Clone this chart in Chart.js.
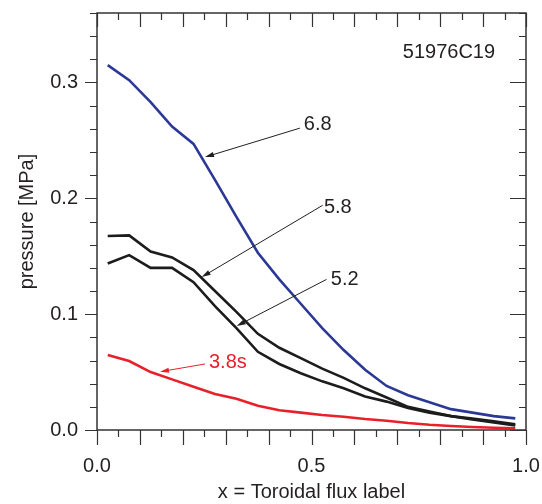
<!DOCTYPE html>
<html>
<head>
<meta charset="utf-8">
<script src="https://cdn.jsdelivr.net/npm/chart.js@4/dist/chart.umd.min.js"></script>
<style>
  body { margin: 0; background: #fff; }
  canvas { display: block; }
</style>
</head>
<body>
<canvas id="pressure-chart" width="542" height="504"></canvas>
<script>
// Toroidal flux label positions of the profile points
const fluxLabel = [0.025, 0.075, 0.125, 0.175, 0.225, 0.275, 0.325, 0.375, 0.425, 0.475,
  0.525, 0.575, 0.625, 0.675, 0.725, 0.775, 0.825, 0.875, 0.925, 0.975];

// Pressure profiles [MPa] at each time slice
const pressure68 = [0.315, 0.302, 0.283, 0.262, 0.247, 0.216, 0.184, 0.153, 0.130, 0.109,
  0.088, 0.069, 0.052, 0.038, 0.030, 0.024, 0.018, 0.015, 0.012, 0.010];
const pressure58 = [0.1675, 0.168, 0.154, 0.149, 0.138, 0.120, 0.102, 0.083, 0.071, 0.062,
  0.053, 0.045, 0.036, 0.028, 0.020, 0.016, 0.012, 0.010, 0.0075, 0.005];
const pressure52 = [0.1437, 0.151, 0.140, 0.140, 0.1276, 0.107, 0.088, 0.0675, 0.057, 0.049,
  0.042, 0.036, 0.029, 0.0245, 0.019, 0.015, 0.012, 0.009, 0.0065, 0.004];
const pressure38 = [0.0647, 0.0595, 0.050, 0.0437, 0.0373, 0.031, 0.027, 0.021, 0.017, 0.015,
  0.013, 0.0115, 0.0095, 0.008, 0.006, 0.0045, 0.0035, 0.0026, 0.002, 0.0015];

const xTickLabels = [0, 0.5, 1.0];
const yTickLabels = [0, 0.1, 0.2, 0.3];

const FONT = '"Liberation Sans", Arial, Helvetica, sans-serif';
const TEXT_COLOR = '#231f20';
const AXIS_COLOR = '#333333';

// Annotations in data coordinates: label text, where it sits, and arrow tail/head
const annotations = [
  { text: '6.8', x: 0.482, y: 0.264, color: TEXT_COLOR, from: [0.473, 0.2606], to: [0.2517, 0.2356] },
  { text: '5.8', x: 0.529, y: 0.192, color: TEXT_COLOR, from: [0.526, 0.194], to: [0.244, 0.132] },
  { text: '5.2', x: 0.545, y: 0.130, color: TEXT_COLOR, from: [0.535, 0.130], to: [0.3256, 0.0898] },
  { text: '3.8s', x: 0.261, y: 0.0583, color: '#e8202a', from: [0.2517, 0.057], to: [0.1469, 0.0503] }
];
const shotLabel = { text: '51976C19', x: 0.928, y: 0.326 };

function toPoints(values) {
  return fluxLabel.map((x, i) => ({ x: x, y: values[i] }));
}

function drawArrow(ctx, x1, y1, x2, y2, color) {
  const angle = Math.atan2(y2 - y1, x2 - x1);
  const headLen = 9;
  const headHalf = 2.6;
  ctx.save();
  ctx.strokeStyle = color;
  ctx.fillStyle = color;
  ctx.lineWidth = 1;
  ctx.beginPath();
  ctx.moveTo(x1, y1);
  ctx.lineTo(x2 - Math.cos(angle) * headLen * 0.8, y2 - Math.sin(angle) * headLen * 0.8);
  ctx.stroke();
  ctx.translate(x2, y2);
  ctx.rotate(angle);
  ctx.beginPath();
  ctx.moveTo(0, 0);
  ctx.lineTo(-headLen, -headHalf);
  ctx.lineTo(-headLen, headHalf);
  ctx.closePath();
  ctx.fill();
  ctx.restore();
}

// Labels and arrows drawn over the curves
const annotationPlugin = {
  id: 'annotations',
  afterDatasetsDraw(chart) {
    const { ctx, scales: { x, y } } = chart;
    ctx.save();
    ctx.font = '20px ' + FONT;
    ctx.textBaseline = 'middle';
    annotations.forEach(a => {
      drawArrow(ctx, x.getPixelForValue(a.from[0]), y.getPixelForValue(a.from[1]),
        x.getPixelForValue(a.to[0]), y.getPixelForValue(a.to[1]), a.color);
      ctx.fillStyle = a.color;
      ctx.textAlign = 'left';
      ctx.fillText(a.text, x.getPixelForValue(a.x), y.getPixelForValue(a.y));
    });
    ctx.fillStyle = TEXT_COLOR;
    ctx.textAlign = 'right';
    ctx.fillText(shotLabel.text, x.getPixelForValue(shotLabel.x), y.getPixelForValue(shotLabel.y));
    ctx.restore();
  }
};

// Box frame with minor/major ticks on all four sides
const framePlugin = {
  id: 'frameTicks',
  afterDraw(chart) {
    const { ctx, scales: { x, y } } = chart;
    const left = x.getPixelForValue(0);
    const right = x.getPixelForValue(1);
    const top = y.getPixelForValue(0.36);
    const bottom = y.getPixelForValue(0);
    ctx.save();
    ctx.strokeStyle = AXIS_COLOR;
    ctx.lineWidth = 1.5;
    ctx.beginPath();
    ctx.moveTo(left, top);
    ctx.lineTo(right, top);
    ctx.lineTo(right, bottom);
    ctx.lineTo(left, bottom);
    ctx.closePath();
    ctx.stroke();
    ctx.lineWidth = 1.2;
    ctx.beginPath();
    for (let i = 0; i <= 20; i++) {
      const px = Math.round(x.getPixelForValue(i * 0.05)) + 0.5;
      const major = i % 2 === 0;
      // bottom, outward
      ctx.moveTo(px, bottom);
      ctx.lineTo(px, bottom + (major ? 15 : 7));
      // top, inward
      ctx.moveTo(px, top);
      ctx.lineTo(px, top + (major ? 14 : 7));
    }
    for (let i = 0; i <= 18; i++) {
      const py = Math.round(y.getPixelForValue(i * 0.02)) + 0.5;
      const major = i % 5 === 0;
      // left, outward
      ctx.moveTo(left, py);
      ctx.lineTo(left - (major ? 12 : 7), py);
      // right, inward
      ctx.moveTo(right, py);
      ctx.lineTo(right - (major ? 16 : 7), py);
    }
    ctx.stroke();
    ctx.restore();
  }
};

function lineSet(label, values, color) {
  return {
    label: label,
    data: toPoints(values),
    borderColor: color,
    borderWidth: 2.6,
    pointRadius: 0,
    tension: 0,
    fill: false
  };
}

// Fixed axis sizes, no automatic label padding
function fixSize(prop, size) {
  return scale => {
    scale[prop] = size;
    scale.paddingTop = 0;
    scale.paddingBottom = 0;
    scale.paddingLeft = 0;
    scale.paddingRight = 0;
  };
}

const ctx = document.getElementById('pressure-chart').getContext('2d');
new Chart(ctx, {
  type: 'line',
  data: {
    datasets: [
      lineSet('3.8s', pressure38, '#e8202a'),
      lineSet('5.2', pressure52, '#1c1c1c'),
      lineSet('5.8', pressure58, '#1c1c1c'),
      lineSet('6.8', pressure68, '#2b3896')
    ]
  },
  options: {
    responsive: false,
    animation: false,
    layout: { padding: { top: 13, right: 16, left: 0, bottom: 0 } },
    plugins: {
      legend: { display: false },
      tooltip: { enabled: false }
    },
    scales: {
      x: {
        type: 'linear',
        min: 0,
        max: 1,
        grid: { display: false, drawTicks: false },
        border: { display: false },
        afterBuildTicks: scale => { scale.ticks = xTickLabels.map(v => ({ value: v })); },
        afterFit: fixSize('height', 74),
        ticks: {
          padding: 24,
          maxRotation: 0,
          color: TEXT_COLOR,
          font: { family: FONT, size: 20 },
          callback: v => Number(v).toFixed(1)
        },
        title: {
          display: true,
          text: 'x = Toroidal flux label',
          color: TEXT_COLOR,
          font: { family: FONT, size: 20 },
          padding: { top: 0, bottom: 0 }
        }
      },
      y: {
        type: 'linear',
        min: 0,
        max: 0.36,
        grid: { display: false, drawTicks: false },
        border: { display: false },
        afterBuildTicks: scale => { scale.ticks = yTickLabels.map(v => ({ value: v })); },
        afterFit: fixSize('width', 97),
        ticks: {
          padding: 19,
          color: TEXT_COLOR,
          font: { family: FONT, size: 20 },
          callback: v => Number(v).toFixed(1)
        },
        title: {
          display: true,
          text: 'pressure [MPa]',
          color: TEXT_COLOR,
          font: { family: FONT, size: 20 },
          padding: { top: 15, bottom: 0 }
        }
      }
    }
  },
  plugins: [annotationPlugin, framePlugin]
});
</script>
</body>
</html>
